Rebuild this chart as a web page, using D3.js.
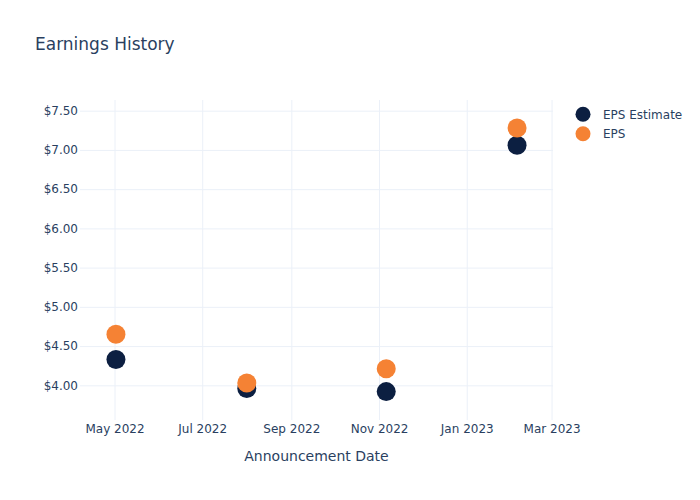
<!DOCTYPE html>
<html>
<head>
<meta charset="utf-8">
<script src="https://cdn.jsdelivr.net/npm/d3@7"></script>
<style>
  body { margin: 0; background: #fff; }
  svg { display: block; font-family: "DejaVu Sans", Verdana, sans-serif; }
</style>
</head>
<body>
<svg id="chart" width="700" height="500"></svg>
<script>
const dates = ["2022-05-02", "2022-08-01", "2022-11-06", "2023-02-05"];
const epsEstimate = [4.33, 3.96, 3.92, 7.06];
const eps = [4.65, 4.03, 4.21, 7.28];
const seriesNames = ["EPS Estimate", "EPS"];
const seriesColors = ["#0c1f41", "#f58234"];
const yTicks = [4.0, 4.5, 5.0, 5.5, 6.0, 6.5, 7.0, 7.5];
const xTicks = ["2022-05-01", "2022-07-01", "2022-09-01", "2022-11-01", "2023-01-01", "2023-03-01"];

const parse = d3.timeParse("%Y-%m-%d");
const svg = d3.select("#chart");
const textColor = "#2a3f5f";
const gridColor = "#ebf0f8";
const fontFamily = '"DejaVu Sans", Verdana, sans-serif';

const x = d3.scaleTime()
  .domain([new Date(2022, 3, 7), new Date(2023, 2, 2)])
  .range([80, 553]);
const y = d3.scaleLinear()
  .domain([3.558, 7.636])
  .range([420, 100]);

// Grid + axes
const xAxis = d3.axisBottom(x)
  .tickValues(xTicks.map(parse))
  .tickFormat(d3.timeFormat("%b %Y"))
  .tickSize(320)
  .tickPadding(4.5);
const gx = svg.append("g").attr("transform", "translate(0,100)").call(xAxis)
  .attr("font-family", fontFamily).attr("font-size", 12);
gx.select(".domain").remove();
gx.selectAll("line").attr("stroke", gridColor).attr("stroke-width", 1);
gx.selectAll("text").attr("fill", textColor);

const yAxis = d3.axisLeft(y)
  .tickValues(yTicks)
  .tickFormat(d => "$" + d.toFixed(2))
  .tickSize(-473)
  .tickPadding(2);
const gy = svg.append("g").attr("transform", "translate(80,0)").call(yAxis)
  .attr("font-family", fontFamily).attr("font-size", 12);
gy.select(".domain").remove();
gy.selectAll("line").attr("stroke", gridColor).attr("stroke-width", 1);
gy.selectAll("text").attr("fill", textColor);

// Points
const series = [epsEstimate, eps];
series.forEach((vals, i) => {
  svg.append("g").selectAll("circle")
    .data(vals.map((v, j) => ({ d: parse(dates[j]), v })))
    .join("circle")
    .attr("cx", p => x(p.d))
    .attr("cy", p => y(p.v))
    .attr("r", 9.5)
    .attr("fill", seriesColors[i]);
});

// Title
svg.append("text").attr("x", 35).attr("y", 50)
  .attr("fill", textColor).attr("font-size", 17)
  .text("Earnings History");

// X axis title
svg.append("text").attr("x", 316.5).attr("y", 461)
  .attr("text-anchor", "middle")
  .attr("fill", textColor).attr("font-size", 14)
  .text("Announcement Date");

// Legend
const legend = svg.append("g");
seriesNames.forEach((name, i) => {
  const yy = 114.3 + i * 19.5;
  legend.append("circle").attr("cx", 583).attr("cy", yy).attr("r", 7.5).attr("fill", seriesColors[i]);
  legend.append("text").attr("x", 603).attr("y", yy + 4.5)
    .attr("fill", textColor).attr("font-size", 12).text(name);
});
</script>
</body>
</html>
